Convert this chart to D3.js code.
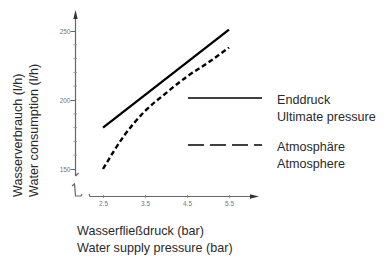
<!DOCTYPE html>
<html><head><meta charset="utf-8">
<script src="https://cdn.jsdelivr.net/npm/d3@7"></script>
<style>
html,body{margin:0;padding:0;background:#fff;}
svg{display:block;}
text{font-family:"Liberation Sans",Arial,sans-serif;}
</style></head>
<body>
<svg id="c" width="391" height="258"></svg>
<script>
const pressure = [2.5, 3.0, 3.5, 4.0, 4.5, 5.0, 5.5];
const ultimate = [180, null, null, null, null, null, 251];
const atmosphere = [150, 174, 192, 205, 217, 227, 238];
const xTicks = [2.5, 3.5, 4.5, 5.5];
const xTickLabels = ["2.5", "3.5", "4.5", "5.5"];
const yTicks = [150, 200, 250];
const yMinor = [160, 170, 180, 190, 210, 220, 230, 240];
const legendLabels = [["Enddruck", "Ultimate pressure"], ["Atmosphäre", "Atmosphere"]];
const xTitle = ["Wasserfließdruck (bar)", "Water supply pressure (bar)"];
const yTitle = ["Wasserverbrauch (l/h)", "Water consumption (l/h)"];

const svg = d3.select("#c");
const x = d3.scaleLinear().domain([2.5, 5.5]).range([103, 229]);
const y = d3.scaleLinear().domain([150, 250]).range([169, 31]);
const axisCol = "#666";
const txtCol = "#2a2a2a";
const fs = 12.6;

// y axis line
svg.append("line").attr("x1", 75.5).attr("x2", 75.5).attr("y1", 15).attr("y2", 176)
  .attr("stroke", axisCol).attr("stroke-width", 1.2);
svg.append("path").attr("d", "M75.5,10 L73.3,19 L77.7,19 Z").attr("fill", "#333");
// break marks
svg.append("path").attr("d", "M75.5,176 L78.5,173").attr("stroke", axisCol).attr("fill", "none").attr("stroke-width", 1.2);
svg.append("path").attr("d", "M72,186 L74.5,184 L75.5,196 L81,196 L82,194").attr("stroke", axisCol).attr("fill", "none").attr("stroke-width", 1.2);

// x axis line
svg.append("path").attr("d", "M89,194 L90,196.5 L252,196.5").attr("stroke", axisCol).attr("fill", "none").attr("stroke-width", 1.2);
svg.append("path").attr("d", "M259,196.5 L250,194.3 L250,198.7 Z").attr("fill", "#333");

// y ticks
const yAxis = d3.axisLeft(y).tickValues(yTicks).tickSize(5).tickFormat(d3.format("d"));
const gy = svg.append("g").attr("transform", "translate(75.5,0)").call(yAxis);
gy.select(".domain").remove();
gy.selectAll(".tick line").attr("stroke", axisCol);
gy.selectAll(".tick text").attr("font-size", 6.5).attr("fill", "#777").attr("x", -5).attr("font-family", "Liberation Sans, Arial, sans-serif");
svg.append("g").selectAll("line").data(yMinor).join("line")
  .attr("x1", 73.5).attr("x2", 77).attr("y1", d => y(d)).attr("y2", d => y(d))
  .attr("stroke", "#999").attr("stroke-width", 1);

// x ticks
const xAxis = d3.axisBottom(x).tickValues(xTicks).tickSize(3).tickFormat((d, i) => xTickLabels[i]);
const gx = svg.append("g").attr("transform", "translate(0,195)").call(xAxis);
gx.select(".domain").remove();
gx.selectAll(".tick line").attr("stroke", "#888");
gx.selectAll(".tick text").attr("font-size", 6.5).attr("fill", "#777").attr("y", 6).attr("font-family", "Liberation Sans, Arial, sans-serif");

// lines
const line = d3.line().defined(d => d[1] != null).x(d => x(d[0])).y(d => y(d[1]));
const curve = d3.line().x(d => x(d[0])).y(d => y(d[1])).curve(d3.curveMonotoneX);
const ultData = pressure.map((p, i) => [p, ultimate[i]]).filter(d => d[1] != null);
svg.append("path").attr("d", line(ultData)).attr("stroke", "#000").attr("stroke-width", 2.3).attr("fill", "none");
svg.append("path").attr("d", curve(pressure.map((p, i) => [p, atmosphere[i]])))
  .attr("stroke", "#000").attr("stroke-width", 2.4).attr("fill", "none").attr("stroke-dasharray", "5,3");

// legend
const lg = svg.append("g");
[98, 145].forEach((ly, i) => {
  lg.append("line").attr("x1", 188).attr("x2", 262).attr("y1", ly).attr("y2", ly)
    .attr("stroke", "#000").attr("stroke-width", 1.3)
    .attr("stroke-dasharray", i === 1 ? "16,6" : null);
  legendLabels[i].forEach((t, j) => {
    lg.append("text").attr("x", 277).attr("y", ly + 6 + j * 17).attr("font-size", fs).attr("fill", txtCol).text(t);
  });
});

// axis titles
xTitle.forEach((t, i) => {
  svg.append("text").attr("x", 77).attr("y", 235 + i * 17).attr("font-size", fs).attr("fill", txtCol).text(t);
});
yTitle.forEach((t, i) => {
  svg.append("text").attr("transform", `translate(${22 + i * 16},197) rotate(-90)`)
    .attr("font-size", fs).attr("fill", txtCol).text(t);
});
</script>
</body></html>
